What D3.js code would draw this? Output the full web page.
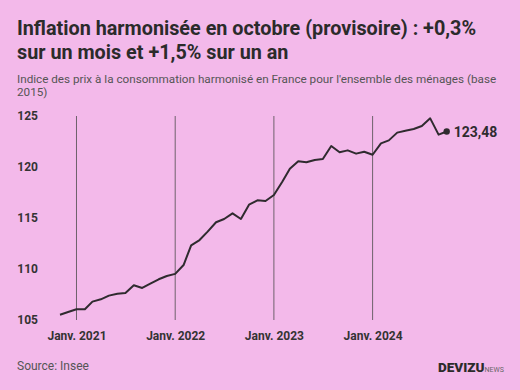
<!DOCTYPE html>
<html>
<head>
<meta charset="utf-8">
<script src="https://cdn.jsdelivr.net/npm/d3@7"></script>
<style>
  body { margin: 0; background: #f3b9ea; }
  svg { display: block; font-family: 'Roboto', sans-serif; }
</style>
</head>
<body>
<svg width="520" height="390"></svg>
<script>
const svg = d3.select('svg');
const width = +svg.attr('width');
const height = +svg.attr('height');

// indice mensuel, nov. 2020 -> oct. 2024
const startMonth = new Date(2020, 10, 1);
const values = [
  105.52, 105.78,
  106.05, 106.05, 106.8, 107.03, 107.39, 107.58, 107.65, 108.4, 108.14, 108.56, 108.99, 109.31,
  109.52, 110.39, 112.32, 112.84, 113.66, 114.58, 114.9, 115.46, 114.9, 116.31, 116.73, 116.67,
  117.25, 118.56, 119.84, 120.56, 120.46, 120.69, 120.78, 122.06, 121.44, 121.63, 121.31, 121.5,
  121.2, 122.32, 122.61, 123.37, 123.56, 123.73, 124.02, 124.77, 123.17, 123.48
];
const yTicks = [105, 110, 115, 120, 125];
const xTicks = [2021, 2022, 2023, 2024];
const xTickLabels = ['Janv. 2021', 'Janv. 2022', 'Janv. 2023', 'Janv. 2024'];
const lastLabel = '123,48';

const data = values.map((v, i) => ({
  date: new Date(startMonth.getFullYear(), startMonth.getMonth() + i, 1),
  value: v
}));

const x = d3.scaleTime()
  .domain(d3.extent(data, d => d.date))
  .range([60, 446.7]);

const y = d3.scaleLinear()
  .domain([105, 125])
  .range([320, 116]);

// titre
const title = svg.append('text')
  .attr('x', 17)
  .attr('y', 35)
  .attr('font-size', 19.8)
  .attr('font-weight', 700)
  .attr('fill', '#2b2b2b');
title.append('tspan').attr('x', 17).text('Inflation harmonisée en octobre (provisoire) : +0,3%');
title.append('tspan').attr('x', 17).attr('dy', 24).text('sur un mois et +1,5% sur un an');

const sub = svg.append('text')
  .attr('x', 17)
  .attr('y', 83)
  .attr('font-size', 11.7)
  .attr('fill', '#555');
sub.append('tspan').attr('x', 17).text("Indice des prix à la consommation harmonisé en France pour l'ensemble des ménages (base");
sub.append('tspan').attr('x', 17).attr('dy', 13).text('2015)');

// lignes verticales
svg.append('g')
  .selectAll('line')
  .data(xTicks)
  .enter()
  .append('line')
    .attr('x1', d => x(new Date(d, 0, 1)))
    .attr('x2', d => x(new Date(d, 0, 1)))
    .attr('y1', y(125))
    .attr('y2', y(105))
    .attr('stroke', '#6e626c')
    .attr('stroke-width', 1);

// axe y
const axisY = d3.axisLeft(y)
  .tickValues(yTicks)
  .tickSize(0)
  .tickPadding(0);
svg.append('g')
  .attr('transform', 'translate(38,0)')
  .call(axisY)
  .call(g => g.select('.domain').remove())
  .selectAll('text')
    .attr('font-family', 'Roboto, sans-serif')
    .attr('font-size', 12)
    .attr('font-weight', 700)
    .attr('fill', '#333');

// axe x
const axisX = d3.axisBottom(x)
  .tickValues(xTicks.map(d => new Date(d, 0, 1)))
  .tickFormat((d, i) => xTickLabels[i])
  .tickSize(0)
  .tickPadding(0);
svg.append('g')
  .attr('transform', 'translate(0,330)')
  .call(axisX)
  .call(g => g.select('.domain').remove())
  .selectAll('text')
    .attr('dy', 0)
    .attr('y', 10)
    .attr('font-family', 'Roboto, sans-serif')
    .attr('font-size', 12)
    .attr('font-weight', 700)
    .attr('fill', '#333');

// courbe
const line = d3.line()
  .x(d => x(d.date))
  .y(d => y(d.value));

svg.append('path')
  .datum(data)
  .attr('d', line)
  .attr('fill', 'none')
  .attr('stroke', '#2f2b2f')
  .attr('stroke-width', 2)
  .attr('stroke-linejoin', 'round');

const last = data[data.length - 1];
svg.append('circle')
  .attr('cx', x(last.date))
  .attr('cy', y(last.value))
  .attr('r', 3.2)
  .attr('fill', '#2f2b2f');

svg.append('text')
  .attr('x', x(last.date) + 7)
  .attr('y', y(last.value) + 5)
  .attr('font-size', 14)
  .attr('font-weight', 700)
  .attr('fill', '#2f2b2f')
  .text(lastLabel);

// source
svg.append('text')
  .attr('x', 17)
  .attr('y', 370)
  .attr('font-size', 12)
  .attr('fill', '#555')
  .text('Source: Insee');

const logo = svg.append('text')
  .attr('x', 438)
  .attr('y', 372)
  .attr('fill', '#2b2b2b');
logo.append('tspan')
  .attr('font-size', 13.5)
  .attr('font-weight', 900)
  .text('DEVIZU');
logo.append('tspan')
  .attr('font-size', 7)
  .attr('fill', '#666')
  .text('NEWS');
</script>
</body>
</html>
